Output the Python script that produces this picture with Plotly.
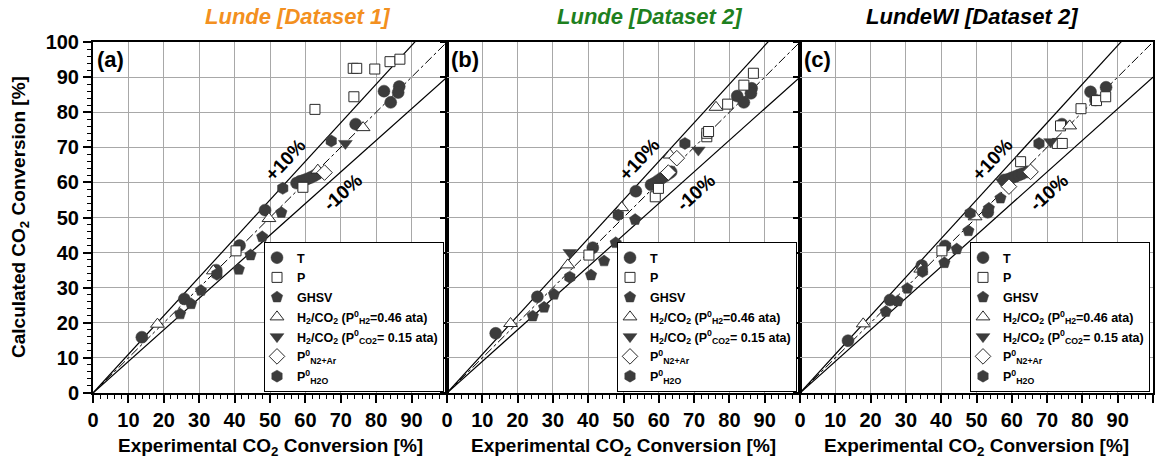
import plotly.graph_objects as go

# ---------------- DATA ----------------
SERIES_NAMES = ["T", "P", "GHSV",
                "H<sub>2</sub>/CO<sub>2</sub> (P<sup>0</sup><sub>H2</sub>=0.46 ata)",
                "H<sub>2</sub>/CO<sub>2</sub> (P<sup>0</sup><sub>CO2</sub>= 0.15 ata)",
                "P<sup>0</sup><sub>N2+Ar</sub>",
                "P<sup>0</sup><sub>H2O</sub>"]

PANEL_TITLES = ["Lunde [Dataset 1]", "Lunde [Dataset 2]", "LundeWI [Dataset 2]"]
PANEL_LABELS = ["(a)", "(b)", "(c)"]
X_TICKS_AB = [0, 10, 20, 30, 40, 50, 60, 70, 80, 90]
X_TICKS_C = [0, 10, 20, 30, 40, 50, 60, 70, 80, 90, 100]
Y_TICKS = [0, 10, 20, 30, 40, 50, 60, 70, 80, 90, 100]

PARITY_X = [0, 100]
PARITY_Y = [0, 100]
PLUS10_Y = [0, 110]
MINUS10_Y = [0, 90]

# Panel (a)
A_T_X = [13.8, 25.8, 34.8, 41.4, 48.6, 57.5, 58.5, 59.5, 60.5, 61.5, 62.5, 63.3, 74.2, 82.2, 86.5, 86.2, 84.1]
A_T_Y = [15.9, 26.8, 35.0, 42.0, 52.1, 59.8, 60.3, 60.6, 61.0, 61.4, 61.9, 62.4, 76.6, 86.0, 87.3, 85.6, 82.8]
A_P_X = [40.4, 59.3, 62.7, 73.7, 73.5, 74.5, 79.6, 83.9, 86.7]
A_P_Y = [40.5, 58.6, 80.8, 84.4, 92.5, 92.5, 92.3, 94.4, 95.1]
A_GHSV_X = [24.6, 27.7, 30.5, 41.2, 44.5, 47.8, 53.2]
A_GHSV_Y = [22.5, 25.4, 29.2, 35.2, 39.3, 44.5, 51.4]
A_H2_X = [18.2, 34.0, 49.7, 63.5, 76.3]
A_H2_Y = [19.6, 34.8, 49.7, 63.5, 75.6]
A_CO2_X = [71.3]
A_CO2_Y = [71.1]
A_N2_X = [65.4]
A_N2_Y = [62.8]
A_H2O_X = [35.0, 53.6, 67.3]
A_H2O_Y = [33.8, 58.3, 71.8]

# Panel (b)
B_T_X = [13.8, 25.6, 41.3, 53.5, 57.8, 58.8, 59.8, 60.8, 61.8, 62.8, 63.5, 82.2, 84.1, 86.3, 86.1]
B_T_Y = [17.0, 27.4, 41.4, 57.5, 59.3, 59.8, 60.5, 61.2, 61.8, 62.5, 63.0, 84.6, 82.8, 86.8, 85.4]
B_P_X = [40.2, 59.0, 59.9, 73.6, 73.6, 74.1, 79.5, 84.1, 86.8]
B_P_Y = [39.3, 55.9, 58.3, 73.0, 74.0, 74.5, 82.3, 87.7, 91.1]
B_GHSV_X = [24.3, 27.5, 30.3, 40.8, 44.5, 47.8, 53.3]
B_GHSV_Y = [21.9, 24.4, 28.1, 33.6, 37.6, 42.8, 49.4]
B_H2_X = [18.0, 34.2, 49.5, 63.2, 76.2]
B_H2_Y = [19.8, 36.5, 52.8, 67.8, 81.4]
B_CO2_X = [34.8, 71.2]
B_CO2_Y = [40.0, 69.2]
B_N2_X = [62.7, 65.1]
B_N2_Y = [62.8, 66.9]
B_H2O_X = [34.8, 48.5, 67.4]
B_H2O_Y = [33.0, 50.7, 71.1]

# Panel (c)
C_T_X = [13.6, 25.5, 34.5, 41.1, 53.2, 57.8, 59.0, 60.0, 61.0, 62.0, 63.0, 64.4, 74.2, 82.3, 86.7, 83.7]
C_T_Y = [14.9, 26.5, 36.3, 41.9, 51.5, 60.7, 60.9, 61.3, 61.7, 62.1, 62.5, 63.0, 76.6, 85.8, 87.1, 83.5]
C_P_X = [40.2, 62.5, 72.9, 74.3, 73.8, 79.6, 84.0, 86.6]
C_P_Y = [40.5, 65.9, 71.1, 71.1, 76.1, 81.0, 83.3, 84.4]
C_GHSV_X = [24.3, 27.7, 30.4, 40.9, 44.4, 47.7, 53.5, 56.8]
C_GHSV_Y = [23.2, 26.2, 29.8, 37.1, 41.0, 46.2, 52.6, 55.5]
C_H2_X = [17.9, 34.2, 49.6, 76.4]
C_H2_Y = [19.7, 35.3, 50.2, 76.1]
C_CO2_X = [57.3, 71.0]
C_CO2_Y = [60.2, 71.6]
C_N2_X = [59.2, 65.3]
C_N2_Y = [58.8, 63.0]
C_H2O_X = [34.7, 48.2, 67.7]
C_H2O_Y = [34.6, 51.2, 71.1]

PANELS = [
    [(A_T_X, A_T_Y), (A_P_X, A_P_Y), (A_GHSV_X, A_GHSV_Y), (A_H2_X, A_H2_Y),
     (A_CO2_X, A_CO2_Y), (A_N2_X, A_N2_Y), (A_H2O_X, A_H2O_Y)],
    [(B_T_X, B_T_Y), (B_P_X, B_P_Y), (B_GHSV_X, B_GHSV_Y), (B_H2_X, B_H2_Y),
     (B_CO2_X, B_CO2_Y), (B_N2_X, B_N2_Y), (B_H2O_X, B_H2O_Y)],
    [(C_T_X, C_T_Y), (C_P_X, C_P_Y), (C_GHSV_X, C_GHSV_Y), (C_H2_X, C_H2_Y),
     (C_CO2_X, C_CO2_Y), (C_N2_X, C_N2_Y), (C_H2O_X, C_H2O_Y)],
]

# ---------------- STYLE ----------------
W, H = 1169, 466
FONT = "Liberation Sans, Arial, sans-serif"
DARK = "#3c3c3c"
EDGE = "#2a2a2a"
MARKERS = [
    dict(symbol="circle", size=12, color=DARK, line=dict(color=DARK, width=0.5)),
    dict(symbol="square", size=10, color="white", line=dict(color=EDGE, width=1)),
    dict(symbol="pentagon", size=12, color=DARK, line=dict(color=DARK, width=0.5)),
    dict(symbol="triangle-up", size=12, color="white", line=dict(color=EDGE, width=1)),
    dict(symbol="triangle-down", size=12, color=DARK, line=dict(color=DARK, width=0.5)),
    dict(symbol="diamond", size=12, color="white", line=dict(color=EDGE, width=1)),
    dict(symbol="hexagon", size=12, color=DARK, line=dict(color=DARK, width=0.5)),
]

px_x = [(93, 447), (447, 800), (800, 1153)]
px_y = (42, 393)
ydom = [1 - px_y[1] / H, 1 - px_y[0] / H]
TITLE_COLORS = ["#F39020", "#1E8020", "#000000"]
TITLE_CX = [297, 649, 972]

fig = go.Figure()

for p in range(3):
    sfx = "" if p == 0 else str(p + 1)
    xa, ya = "x" + sfx, "y" + sfx
    leg = "legend" + sfx
    # reference lines
    fig.add_trace(go.Scatter(x=PARITY_X, y=PARITY_Y, mode="lines", xaxis=xa, yaxis=ya,
                             line=dict(color="black", width=1, dash="dashdot"),
                             showlegend=False, hoverinfo="skip"))
    fig.add_trace(go.Scatter(x=PARITY_X, y=PLUS10_Y, mode="lines", xaxis=xa, yaxis=ya,
                             line=dict(color="black", width=1.2),
                             showlegend=False, hoverinfo="skip"))
    fig.add_trace(go.Scatter(x=PARITY_X, y=MINUS10_Y, mode="lines", xaxis=xa, yaxis=ya,
                             line=dict(color="black", width=1.2),
                             showlegend=False, hoverinfo="skip"))
    for s, (xs, ys) in enumerate(PANELS[p]):
        fig.add_trace(go.Scatter(x=xs, y=ys, mode="markers", xaxis=xa, yaxis=ya,
                                 name=SERIES_NAMES[s], marker=MARKERS[s],
                                 legend=leg, legendgroup=f"g{p}_{s}", showlegend=True))

    dom = [px_x[p][0] / W, px_x[p][1] / W]
    xaxis = dict(domain=dom, range=[0, 100], anchor=ya,
                 tickvals=X_TICKS_C if p == 2 else X_TICKS_AB,
                 showgrid=True, gridcolor="#a8a8a8", gridwidth=1,
                 showline=True, linecolor="black", linewidth=2, mirror=True,
                 ticks="outside", ticklen=8, tickwidth=1.5, tickcolor="black",
                 minor=dict(dtick=2, ticks="outside", ticklen=4, tickwidth=1.2,
                            tickcolor="black", showgrid=False),
                 tickfont=dict(family=FONT, size=20, color="black", weight="bold"),
                 zeroline=False, automargin=False, fixedrange=True)
    yaxis = dict(domain=ydom, range=[0, 100], anchor=xa, tickvals=Y_TICKS,
                 showgrid=True, gridcolor="#a8a8a8", gridwidth=1,
                 showline=True, linecolor="black", linewidth=2, mirror=True,
                 ticks="outside", ticklen=8 if p == 0 else 5, tickwidth=1.5, tickcolor="black",
                 showticklabels=(p == 0),
                 tickfont=dict(family=FONT, size=20, color="black", weight="bold"),
                 zeroline=False, automargin=False, fixedrange=True)
    if p == 0:
        yaxis["minor"] = dict(dtick=2, ticks="outside", ticklen=4, tickwidth=1.2,
                              tickcolor="black", showgrid=False)
    fig.layout["xaxis" + sfx] = xaxis
    fig.layout["yaxis" + sfx] = yaxis

    fig.layout[leg] = dict(x=(px_x[p][1] - 3) / W, xanchor="right",
                           y=1 - 392 / H, yanchor="bottom",
                           bgcolor="white", bordercolor="black", borderwidth=1,
                           font=dict(family=FONT, size=12.5, color="black", weight="bold"),
                           traceorder="grouped", tracegroupgap=0.5, indentation=-8,
                           itemclick=False, itemdoubleclick=False)

    # panel label
    fig.add_annotation(x=0, y=100, xref=xa, yref=ya, xanchor="left", yanchor="top",
                       text="<b>" + PANEL_LABELS[p] + "</b>", showarrow=False, xshift=2, yshift=-3,
                       font=dict(family=FONT, size=22, color="black"))
    # +/-10% labels
    fig.add_annotation(x=54.5, y=66.4, xref=xa, yref=ya, text="<b>+10%</b>", showarrow=False,
                       textangle=-47, font=dict(family=FONT, size=19, color="black"))
    fig.add_annotation(x=70.5, y=57.0, xref=xa, yref=ya, text="<b>-10%</b>", showarrow=False,
                       textangle=-42, font=dict(family=FONT, size=19, color="black"))
    # panel title
    fig.add_annotation(x=TITLE_CX[p] / W, y=1 - 16 / H, xref="paper", yref="paper",
                       text="<b><i>" + PANEL_TITLES[p] + "</i></b>", showarrow=False,
                       xanchor="center", yanchor="middle",
                       font=dict(family=FONT, size=22, color=TITLE_COLORS[p]))
    # x title
    fig.add_annotation(x=(px_x[p][0] + px_x[p][1]) / 2 / W, y=1 - 447 / H, xref="paper", yref="paper",
                       text="<b>Experimental CO<sub>2</sub> Conversion [%]</b>", showarrow=False,
                       xanchor="center", yanchor="middle",
                       font=dict(family=FONT, size=19, color="black"))

# y title
fig.add_annotation(x=20 / W, y=1 - 217 / H, xref="paper", yref="paper",
                   text="<b>Calculated CO<sub>2</sub> Conversion [%]</b>", showarrow=False,
                   textangle=-90, xanchor="center", yanchor="middle",
                   font=dict(family=FONT, size=19, color="black"))

fig.update_layout(width=W, height=H, margin=dict(l=0, r=0, t=0, b=0),
                  paper_bgcolor="white", plot_bgcolor="white",
                  template="none", hovermode=False)

fig.write_html("out.html", config={"displayModeBar": False})
